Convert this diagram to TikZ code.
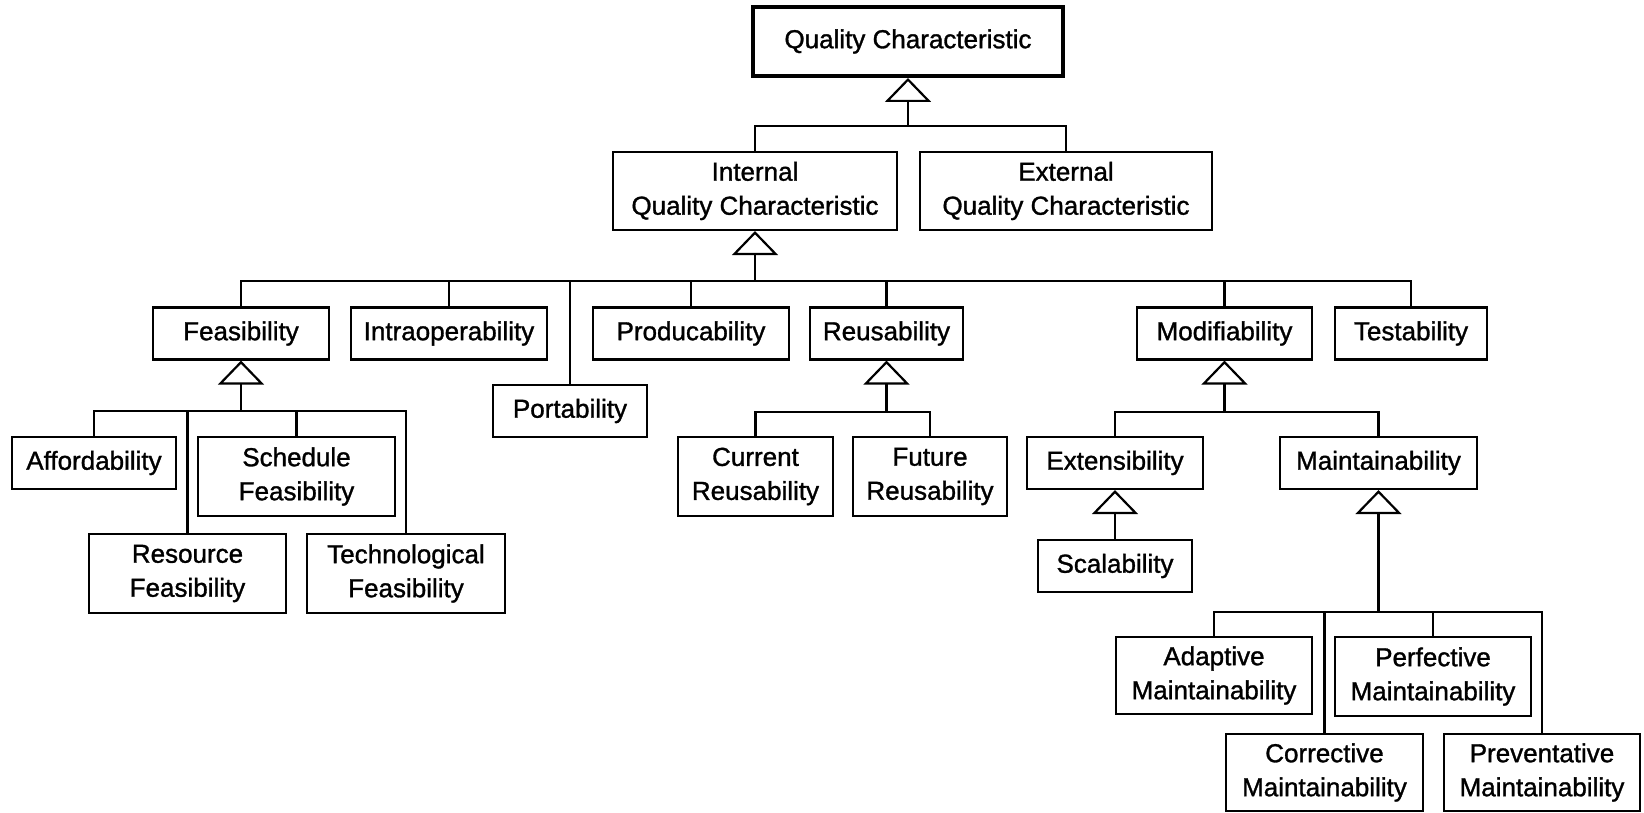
\documentclass[tikz,border=0pt]{standalone}
\usepackage{fontspec}
\setmainfont{Liberation Sans}[BoldFont=Liberation Sans, BoldFeatures={FakeBold=1.2}]
\usetikzlibrary{arrows.meta}
\begin{document}
\begin{tikzpicture}[x=1pt,y=-1pt,
  box/.style={draw, line width=2.2pt, rectangle, align=center, inner sep=0pt,
    font=\fontsize{26}{34}\selectfont\bfseries, minimum height=52pt},
  tall/.style={box, minimum height=79pt},
  link/.style={line width=2.2pt},
  gen/.style={line width=2.2pt, -{Triangle[open, width=46pt, length=24pt]}},
]
\useasboundingbox (0,0) rectangle (1644,813);

% root
\node[box, line width=4pt, minimum width=310pt, minimum height=69pt] (qc) at (908,41.5) {Quality Characteristic};

% first level
\node[tall, minimum width=284pt, minimum height=78pt] (iqc) at (755,191) {Internal\\Quality Characteristic};
\node[tall, minimum width=292pt, minimum height=78pt] (eqc) at (1066,191) {External\\Quality Characteristic};

% internal characteristics
\node[box, minimum width=176pt] (feas)   at (241,333.5)   {Feasibility};
\node[box, minimum width=196pt] (intra)  at (449,333.5)   {Intraoperability};
\node[box, minimum width=154pt] (port)   at (570,411)     {Portability};
\node[box, minimum width=196pt] (produc) at (691,333.5)   {Producability};
\node[box, minimum width=153pt] (reuse)  at (886.5,333.5) {Reusability};
\node[box, minimum width=175pt] (modif)  at (1224.5,333.5){Modifiability};
\node[box, minimum width=152pt] (test)   at (1411,333.5)  {Testability};

% feasibility
\node[box,  minimum width=164pt] (afford)   at (94,463)      {Affordability};
\node[tall, minimum width=197pt] (sched)    at (296.5,476.5) {Schedule\\Feasibility};
\node[tall, minimum width=197pt] (resource) at (187.5,573.5) {Resource\\Feasibility};
\node[tall, minimum width=198pt] (tech)     at (406,573.5)   {Technological\\Feasibility};

% reusability
\node[tall, minimum width=155pt] (current) at (755.5,476.5) {Current\\Reusability};
\node[tall, minimum width=154pt] (future)  at (930,476.5)   {Future\\Reusability};

% modifiability
\node[box, minimum width=176pt] (extens) at (1115,463)   {Extensibility};
\node[box, minimum width=197pt] (maint)  at (1378.5,463) {Maintainability};
\node[box, minimum width=154pt] (scal)   at (1115,566)   {Scalability};

% maintainability
\node[tall, minimum width=196pt, minimum height=77pt] (adaptive)     at (1214,675.5)  {Adaptive\\Maintainability};
\node[tall, minimum width=196pt] (perfective)   at (1433,676.5)  {Perfective\\Maintainability};
\node[tall, minimum width=197pt, minimum height=77pt] (corrective)   at (1324.5,772.5){Corrective\\Maintainability};
\node[tall, minimum width=196pt, minimum height=77pt] (preventative) at (1542,772.5)  {Preventative\\Maintainability};

% generalisation buses
\coordinate (j0) at (908,126);
\draw[gen] (j0) -- (qc.south);
\foreach \c in {iqc,eqc} \draw[link] (\c.north) |- (j0);

\coordinate (j1) at (755,281);
\draw[gen] (j1) -- (iqc.south);
\foreach \c in {feas,intra,port,produc,reuse,modif,test} \draw[link] (\c.north) |- (j1);

\coordinate (j2) at (241,411);
\draw[gen] (j2) -- (feas.south);
\foreach \c in {afford,resource,sched,tech} \draw[link] (\c.north) |- (j2);

\coordinate (j3) at (886.5,412);
\draw[gen] (j3) -- (reuse.south);
\foreach \c in {current,future} \draw[link] (\c.north) |- (j3);

\coordinate (j4) at (1224.5,412);
\draw[gen] (j4) -- (modif.south);
\foreach \c in {extens,maint} \draw[link] (\c.north) |- (j4);

\draw[gen] (scal.north) -- (extens.south);

\coordinate (j6) at (1378.5,612);
\draw[gen] (j6) -- (maint.south);
\foreach \c in {adaptive,corrective,perfective,preventative} \draw[link] (\c.north) |- (j6);
\end{tikzpicture}
\end{document}
